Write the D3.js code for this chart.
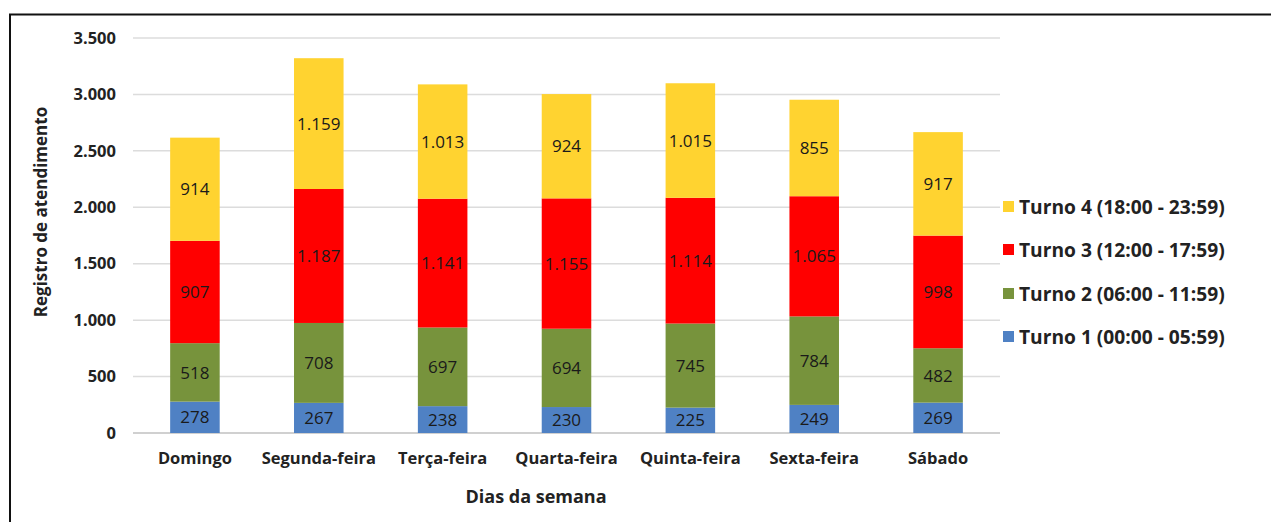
<!DOCTYPE html>
<html><head><meta charset="utf-8">
<script src="https://cdn.jsdelivr.net/npm/d3@7"></script>
<style>html,body{margin:0;padding:0;background:#fff;}svg{display:block;}</style>
</head><body>
<svg id="c" width="1271" height="522"></svg>
<script>
const categories = ["Domingo","Segunda-feira","Terça-feira","Quarta-feira","Quinta-feira","Sexta-feira","Sábado"];
const seriesNames = ["Turno 1 (00:00 - 05:59)","Turno 2 (06:00 - 11:59)","Turno 3 (12:00 - 17:59)","Turno 4 (18:00 - 23:59)"];
const turno1 = [278,267,238,230,225,249,269];
const turno2 = [518,708,697,694,745,784,482];
const turno3 = [907,1187,1141,1155,1114,1065,998];
const turno4 = [914,1159,1013,924,1015,855,917];
const yTicks = [0,500,1000,1500,2000,2500,3000,3500];
const colors = ["#4F81C4","#77933C","#FF0000","#FFD330"];
const seriesValues = [turno1,turno2,turno3,turno4];

(function(){
const locale = d3.formatLocale({decimal:",",thousands:".",grouping:[3],currency:["R$",""]});
const fmt = locale.format(",d");

const svg = d3.select("#c");
const font = "'Open Sans', sans-serif";

// frame
svg.append("rect").attr("x",10).attr("y",14.5).attr("width",1280).attr("height",520)
  .attr("fill","none").attr("stroke","#111").attr("stroke-width",2);

const pLeft=133, pRight=1000, pTop=38, pBottom=433;
const x = d3.scaleBand().domain(categories).range([pLeft,pRight]).paddingInner(0.6).paddingOuter(0.3);
const y = d3.scaleLinear().domain([0,3500]).range([pBottom,pTop]);

// grid
svg.append("g").selectAll("line").data(yTicks).join("line")
  .attr("x1",pLeft).attr("x2",pRight).attr("y1",d=>y(d)).attr("y2",d=>y(d))
  .attr("stroke",d=>d===0?"#d0d0d0":"#dcdcdc").attr("stroke-width",d=>d===0?2:1.5);

// y axis
const yAxis = d3.axisLeft(y).tickValues(yTicks).tickFormat(fmt).tickSize(0).tickPadding(0);
const ya = svg.append("g").attr("transform",`translate(116,0)`).call(yAxis);
ya.select(".domain").remove();
ya.selectAll("text").attr("font-family",font).attr("font-size",16.5).attr("font-weight","bold").attr("fill","#222");

// x axis
const xAxis = d3.axisBottom(x).tickSize(0).tickPadding(0);
const xa = svg.append("g").attr("transform",`translate(0,${pBottom+19})`).call(xAxis);
xa.select(".domain").remove();
xa.selectAll("text").attr("font-family",font).attr("font-size",16.5).attr("font-weight","bold").attr("fill","#222");

// stack
const rows = categories.map((c,i)=>{const o={cat:c}; seriesNames.forEach((s,j)=>o[s]=seriesValues[j][i]); return o;});
const stack = d3.stack().keys(seriesNames)(rows);

const g = svg.append("g");
stack.forEach((layer,j)=>{
  const lg = g.append("g");
  lg.selectAll("rect").data(layer).join("rect")
    .attr("x",d=>x(d.data.cat)).attr("width",x.bandwidth())
    .attr("y",d=>y(d[1])).attr("height",d=>y(d[0])-y(d[1]))
    .attr("fill",colors[j]);
  lg.selectAll("text").data(layer).join("text")
    .attr("x",d=>x(d.data.cat)+x.bandwidth()/2)
    .attr("y",d=>(y(d[0])+y(d[1]))/2)
    .attr("dy","0.36em").attr("text-anchor","middle")
    .attr("font-family",font).attr("font-size",17).attr("fill","#1a1a1a")
    .text(d=>fmt(d[1]-d[0]));
});

// axis titles
svg.append("text").attr("transform",`translate(47,212) rotate(-90)`)
  .attr("text-anchor","middle").attr("font-family",font).attr("font-size",17).attr("font-weight","bold").attr("fill","#222")
  .text("Registro de atendimento");
svg.append("text").attr("x",536).attr("y",503).attr("text-anchor","middle")
  .attr("font-family",font).attr("font-size",18).attr("font-weight","bold").attr("fill","#222")
  .text("Dias da semana");

// legend (reverse order)
const legY = [207,250,294,337];
const leg = svg.append("g");
seriesNames.slice().reverse().forEach((s,i)=>{
  const j = seriesNames.length-1-i;
  leg.append("rect").attr("x",1003).attr("y",legY[i]-6).attr("width",11).attr("height",11).attr("fill",colors[j]);
  leg.append("text").attr("x",1019).attr("y",legY[i]).attr("dy","0.36em")
    .attr("font-family",font).attr("font-size",19.2).attr("font-weight","bold").attr("fill","#222").text(s);
});
})();
</script>
</body></html>
